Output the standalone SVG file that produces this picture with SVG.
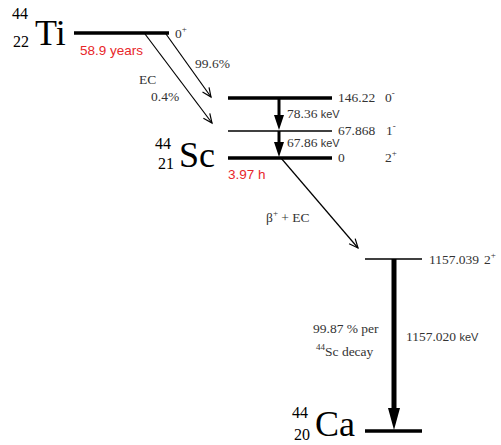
<svg xmlns="http://www.w3.org/2000/svg" width="501" height="445" viewBox="0 0 501 445">
<defs>
<marker id="ah" markerWidth="12" markerHeight="10" refX="10" refY="5" orient="auto" markerUnits="userSpaceOnUse">
<path d="M1,1 L10,5 L1,9" fill="none" stroke="#000" stroke-width="1.2"/>
</marker>
<style>
.big{font-family:"Liberation Serif","DejaVu Serif",serif;font-size:36px;fill:#000}
.nuc{font-family:"Liberation Serif","DejaVu Serif",serif;font-size:16px;fill:#000}
.lab{font-family:"Liberation Serif","DejaVu Serif",serif;font-size:13.5px;fill:#333}
.kev{font-family:"Liberation Sans","DejaVu Sans",sans-serif;font-size:11px;fill:#333}
.red{font-family:"Liberation Sans","DejaVu Sans",sans-serif;font-size:13.5px;fill:#e8262a}
.sup{font-family:"Liberation Serif","DejaVu Serif",serif;font-size:9px;fill:#333}
.thick{stroke:#000;stroke-width:3.5}
.thin{stroke:#000;stroke-width:1.5}
</style>
</defs>
<rect width="501" height="445" fill="#fff"/>

<g id="ti44">
<text class="nuc" x="12" y="19">44</text>
<text class="nuc" x="13" y="47">22</text>
<text class="big" x="35" y="45">Ti</text>
<line class="thick" x1="74" y1="33" x2="169" y2="33"/>
<text class="lab" x="175" y="38">0<tspan class="sup" dy="-6">+</tspan></text>
<text class="red" x="80" y="55">58.9 years</text>
</g>

<g id="sc44">
<text class="nuc" x="155" y="149">44</text>
<text class="nuc" x="158" y="169">21</text>
<text class="big" x="179" y="167">Sc</text>
<line class="thick" x1="228" y1="98" x2="332" y2="98"/>
<line class="thin" x1="228" y1="131" x2="332" y2="131"/>
<line class="thick" x1="228" y1="158" x2="332" y2="158"/>
<text class="lab" x="338" y="102">146.22</text>
<text class="lab" x="385" y="102">0<tspan class="sup" dy="-6">-</tspan></text>
<text class="lab" x="338" y="135">67.868</text>
<text class="lab" x="386" y="135">1<tspan class="sup" dy="-6">-</tspan></text>
<text class="lab" x="338" y="162">0</text>
<text class="lab" x="385" y="162">2<tspan class="sup" dy="-6">+</tspan></text>
<text class="red" x="228" y="179">3.97 h</text>
</g>

<g id="ca44">
<line class="thin" x1="365" y1="259" x2="422" y2="259"/>
<text class="lab" x="429" y="264">1157.039</text>
<text class="lab" x="484" y="264">2<tspan class="sup" dy="-6">+</tspan></text>
<line class="thick" x1="365" y1="431" x2="422" y2="431"/>
<text class="nuc" x="292" y="418">44</text>
<text class="nuc" x="294" y="440">20</text>
<text class="big" x="315" y="436">Ca</text>
</g>

<g id="connectors">
<line x1="166" y1="34" x2="211" y2="97" stroke="#000" stroke-width="1.2" marker-end="url(#ah)"/>
<line x1="145" y1="34" x2="212" y2="123" stroke="#000" stroke-width="1.2" marker-end="url(#ah)"/>
<text class="lab" x="195" y="68">99.6%</text>
<text class="lab" x="139" y="84">EC</text>
<text class="lab" x="151" y="101">0.4%</text>

<line x1="279" y1="98" x2="279" y2="118" stroke="#000" stroke-width="3"/>
<path d="M274,115 L284,115 L279,130 Z" fill="#000"/>
<line x1="279" y1="131" x2="279" y2="145" stroke="#000" stroke-width="3"/>
<path d="M274,142 L284,142 L279,157 Z" fill="#000"/>
<text class="lab" x="287" y="118">78.36 <tspan class="kev">keV</tspan></text>
<text class="lab" x="287" y="147">67.86 <tspan class="kev">keV</tspan></text>

<line x1="281" y1="158" x2="358" y2="248" stroke="#000" stroke-width="1.2" marker-end="url(#ah)"/>
<text class="lab" x="266" y="222">β<tspan class="sup" dy="-6">+</tspan><tspan dy="6"> + EC</tspan></text>

<line x1="394" y1="259" x2="394" y2="412" stroke="#000" stroke-width="5"/>
<path d="M388,408 L400,408 L394,430 Z" fill="#000"/>
<text class="lab" x="406" y="341">1157.020 <tspan class="kev">keV</tspan></text>
<text class="lab" x="313" y="333">99.87 % per</text>
<text class="lab" x="316" y="356"><tspan class="sup" dy="-6">44</tspan><tspan dy="6">Sc decay</tspan></text>
</g>
</svg>
